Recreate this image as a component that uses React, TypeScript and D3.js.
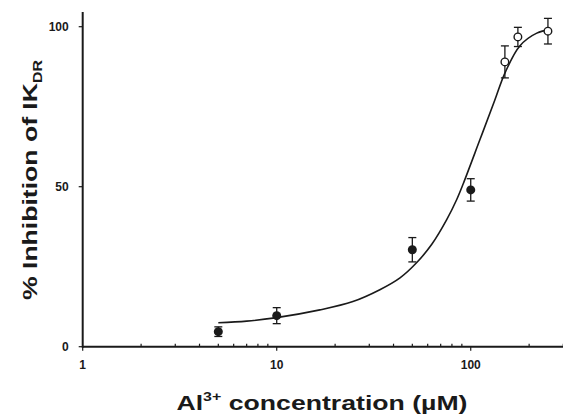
import React from "react";
import * as d3 from "d3";

// Measured data (Al3+ concentration in µM, % inhibition, SEM)
const concentrations = [5, 10, 50, 100, 150, 175, 250];
const inhibition = [4.7, 9.7, 30.3, 49, 89, 96.8, 98.6];
const errors = [1.5, 2.5, 3.8, 3.5, 5, 3, 4];
const openMarker = [false, false, false, false, true, true, true];

// Fitted curve
const fitConc = [5, 7, 9.8, 16.7, 24.7, 34, 43.2, 52.7, 63, 75.2, 84.7, 91.6, 111.7, 133, 150, 179, 219, 256];
const fitValue = [7.5, 8, 9, 11.5, 14.1, 17.8, 21.5, 26.3, 32, 39.7, 46, 51, 64.8, 77, 85.5, 94, 98, 99];

const xTickValues = [1, 10, 100];
const xTickLabels = ["1", "10", "100"];
const yTickValues = [0, 50, 100];
const yTickLabels = ["0", "50", "100"];

const W = 563;
const H = 420;
const left = 82.7;
const right = 563.3;
const top = 26.7;
const bottom = 346.7;

export default function App() {
  const x = d3.scaleLog().domain([1, 300]).range([left, right]);
  const y = d3.scaleLinear().domain([0, 100]).range([bottom, top]);

  const minorTicks: number[] = [];
  for (let d = 1; d <= 100; d *= 10) {
    for (let k = 2; k <= 9; k++) {
      const v = d * k;
      if (v <= 300) minorTicks.push(v);
    }
  }

  const line = d3
    .line<number>()
    .x((_, i) => x(fitConc[i]))
    .y((v) => y(v))
    .curve(d3.curveCatmullRom.alpha(0.5));

  const font = "Arial, 'Liberation Sans', sans-serif";
  const ink = "#1a1a1a";

  return (
    <svg
      width={W}
      height={H}
      style={{ position: "absolute", left: 0, top: 0, background: "#fff" }}
      fontFamily={font}
    >
      {/* fitted curve */}
      <path d={line(fitValue) || ""} fill="none" stroke={ink} strokeWidth={1.6} />

      {/* error bars and markers */}
      {concentrations.map((c, i) => {
        const cx = x(c);
        const cy = y(inhibition[i]);
        const y1 = y(inhibition[i] + errors[i]);
        const y2 = y(inhibition[i] - errors[i]);
        return (
          <g key={i}>
            <line x1={cx} x2={cx} y1={y1} y2={y2} stroke={ink} strokeWidth={1.3} />
            <line x1={cx - 4} x2={cx + 4} y1={y1} y2={y1} stroke={ink} strokeWidth={1.3} />
            <line x1={cx - 4} x2={cx + 4} y1={y2} y2={y2} stroke={ink} strokeWidth={1.3} />
            {openMarker[i] ? (
              <circle cx={cx} cy={cy} r={3.8} fill="#fff" stroke={ink} strokeWidth={1.4} />
            ) : (
              <circle cx={cx} cy={cy} r={4.5} fill={ink} />
            )}
          </g>
        );
      })}

      {/* axes */}
      <line x1={left} x2={left} y1={12} y2={bottom + 1} stroke={ink} strokeWidth={2} />
      <line x1={left} x2={W} y1={bottom} y2={bottom} stroke={ink} strokeWidth={2} />

      {/* x ticks */}
      {minorTicks.map((v) => (
        <line key={"m" + v} x1={x(v)} x2={x(v)} y1={bottom} y2={bottom - 3} stroke={ink} strokeWidth={1.2} />
      ))}
      {xTickValues.map((v, i) => (
        <g key={"x" + v}>
          <line x1={x(v)} x2={x(v)} y1={bottom} y2={bottom + 4} stroke={ink} strokeWidth={1.2} />
          <text x={x(v)} y={369} textAnchor="middle" fontSize={12} fontWeight="bold" fill={ink}>
            {xTickLabels[i]}
          </text>
        </g>
      ))}

      {/* y ticks */}
      {yTickValues.map((v, i) => (
        <g key={"y" + v}>
          <line x1={left} x2={left - 4} y1={y(v)} y2={y(v)} stroke={ink} strokeWidth={1.2} />
          <text x={left - 14} y={y(v) + 4.5} textAnchor="end" fontSize={12} fontWeight="bold" fill={ink}>
            {yTickLabels[i]}
          </text>
        </g>
      ))}

      {/* x title */}
      <text
        x={322}
        y={410}
        textAnchor="middle"
        fontSize={20}
        fontWeight="bold"
        fill={ink}
        textLength={291}
        lengthAdjust="spacingAndGlyphs"
      >
        Al
        <tspan fontSize={12} dy={-9}>3+</tspan>
        <tspan dy={9}> concentration (µM)</tspan>
      </text>

      {/* y title */}
      <text
        transform={`translate(37, 180) rotate(-90)`}
        textAnchor="middle"
        fontSize={20}
        fontWeight="bold"
        fill={ink}
        textLength={240}
        lengthAdjust="spacingAndGlyphs"
      >
        % Inhibition of IK
        <tspan fontSize={12} dy={5}>DR</tspan>
      </text>
    </svg>
  );
}
